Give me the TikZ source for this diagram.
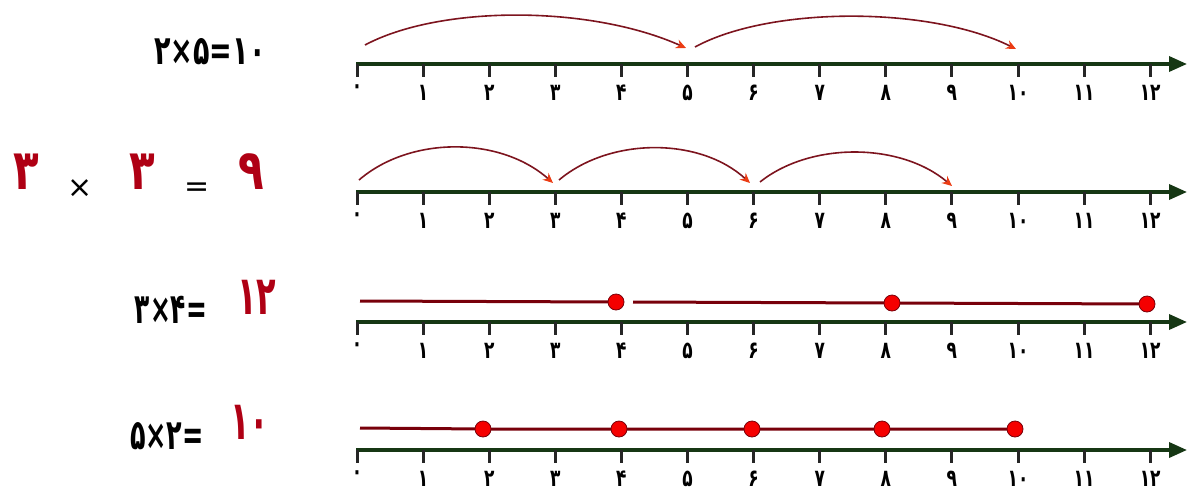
\documentclass[tikz,border=0pt]{standalone}
\usepackage{fontspec}
\usepackage{graphicx}
\newfontfamily\pfont{DejaVu Sans}
\usetikzlibrary{arrows.meta}
\definecolor{axisgreen}{RGB}{22,55,20}
\definecolor{arcred}{RGB}{125,20,30}
\definecolor{tipred}{RGB}{235,60,20}
\definecolor{linered}{RGB}{120,0,10}
\definecolor{dotred}{RGB}{245,0,0}
\definecolor{numred}{RGB}{175,0,20}
\newcommand{\pstretch}[3]{\scalebox{#1}[#2]{#3}}
\tikzset{
  axisline/.style={draw=axisgreen, line width=3.5pt, -{Triangle[length=18pt,width=15pt]}},
  tickmark/.style={draw=black!85, line width=3pt},
  ticklabel/.style={font=\pfont\bfseries\fontsize{20}{20}\selectfont, inner sep=0pt, anchor=north},
  jump/.style={draw=arcred, line width=1.6pt, -{Stealth[length=10pt,width=9pt,color=tipred]}},
  redline/.style={draw=linered, line width=3pt},
  reddot/.style={circle, fill=dotred, draw=linered, line width=0.8pt, minimum size=16pt, inner sep=0pt},
  eqtext/.style={font=\pfont\bfseries\fontsize{30}{30}\selectfont, inner sep=0pt},
  bigred/.style={font=\pfont\bfseries\fontsize{40}{40}\selectfont, text=numred, inner sep=0pt},
  opsign/.style={font=\pfont\fontsize{30}{30}\selectfont, inner sep=0pt}
}
\begin{document}
\begin{tikzpicture}[x=1pt,y=-1pt]
\useasboundingbox (0,0) rectangle (1187,491);
% number lines
\foreach \r/\ay in {1/64,2/192,3/322,4/450}{
  \coordinate (r\r s) at (356,\ay);
  \coordinate (r\r e) at (1187,\ay);
  \draw[axisline] (r\r s) -- (r\r e);
  \foreach \i/\lab in {0/۰,1/۱,2/۲,3/۳,4/۴,5/۵,6/۶,7/۷,8/۸,9/۹,10/۱۰,11/۱۱,12/۱۲}{
    \coordinate (r\r t\i) at ({357+66.1*\i},\ay);
    \coordinate (r\r b\i) at ({357+66.1*\i},\ay+13);
    \draw[tickmark] (r\r t\i) -- (r\r b\i);
    \node[ticklabel] (r\r l\i) at ({357+66.1*\i},\ay+21) {\pstretch{0.85}{1.2}{\lab}};
  }
}
% row 1 jumps
\coordinate (j1a) at (365,45);
\coordinate (j1b) at (686,48);
\coordinate (j1c) at (695,47);
\coordinate (j1d) at (1016,49);
\draw[jump] (j1a) .. controls (440,5) and (590,5) .. (j1b);
\draw[jump] (j1c) .. controls (770,6) and (930,6) .. (j1d);
% row 2 jumps
\coordinate (j2a) at (359,180);
\coordinate (j2b) at (553,183);
\coordinate (j2c) at (559,180);
\coordinate (j2d) at (750,183);
\coordinate (j2e) at (760,182);
\coordinate (j2f) at (952,186);
\draw[jump] (j2a) .. controls (410,136) and (500,136) .. (j2b);
\draw[jump] (j2c) .. controls (610,137) and (700,137) .. (j2d);
\draw[jump] (j2e) .. controls (810,142) and (900,142) .. (j2f);
% row 3 red segments
\coordinate (s3a) at (360,301);
\coordinate (p3a) at (616,302);
\coordinate (s3b) at (633,302);
\coordinate (p3b) at (892,303);
\coordinate (p3c) at (1147,304);
\draw[redline] (s3a) -- (p3a);
\draw[redline] (s3b) -- (p3b) -- (p3c);
\node[reddot] (d3a) at (p3a) {};
\node[reddot] (d3b) at (p3b) {};
\node[reddot] (d3c) at (p3c) {};
% row 4 red segments
\coordinate (s4a) at (360,428);
\coordinate (p4a) at (483,429);
\coordinate (p4b) at (619,429);
\coordinate (p4c) at (752,429);
\coordinate (p4d) at (882,429);
\coordinate (p4e) at (1015,429);
\draw[redline] (s4a) -- (p4a) -- (p4b) -- (p4c) -- (p4d) -- (p4e);
\foreach \k in {a,b,c,d,e}{\node[reddot] (d4\k) at (p4\k) {};}
% equations
\node[eqtext] (eq1) at (210,52) {\pstretch{0.9}{1.35}{۲×۵=۱۰}};
\node[bigred] (eq2a) at (26,172) {\pstretch{1.05}{1.4}{۳}};
\node[opsign] (eq2b) at (80,189) {×};
\node[bigred] (eq2c) at (142,172) {\pstretch{1.05}{1.4}{۳}};
\node[opsign] (eq2d) at (197,190) {=};
\node[bigred] (eq2e) at (251,172) {\pstretch{1.05}{1.4}{۹}};
\node[eqtext] (eq3a) at (171,310) {\pstretch{0.83}{1.4}{۳×۴=}};
\node[bigred] (eq3b) at (257,297) {\pstretch{0.8}{1.35}{۱۲}};
\node[eqtext] (eq4a) at (167,436) {\pstretch{0.85}{1.4}{۵×۲=}};
\node[bigred] (eq4b) at (250,422) {\pstretch{0.8}{1.35}{۱۰}};
\end{tikzpicture}
\end{document}
